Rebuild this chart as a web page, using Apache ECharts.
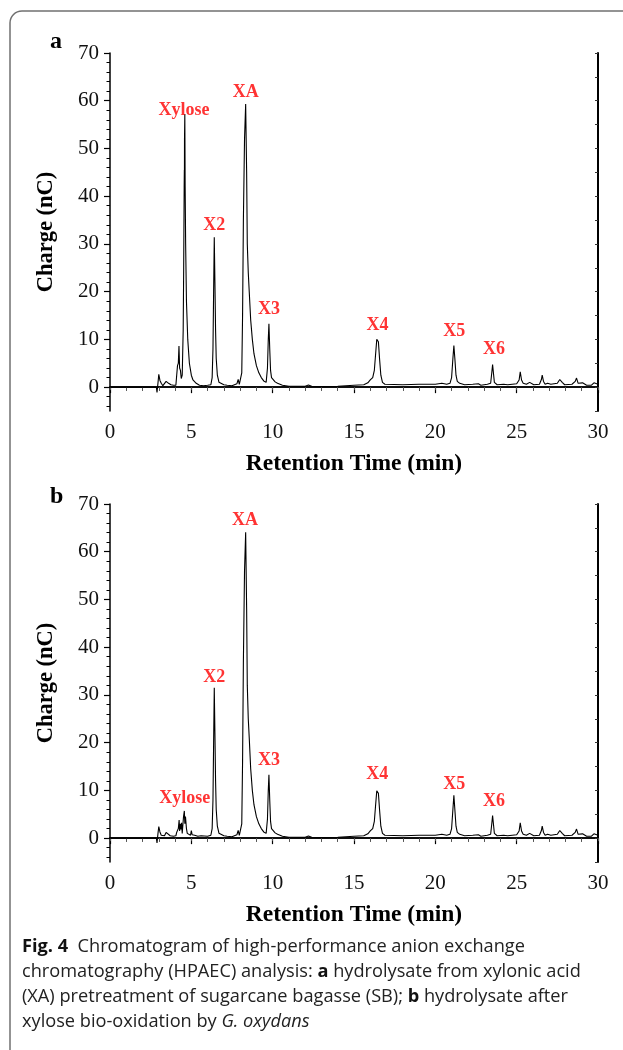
<!DOCTYPE html>
<html>
<head>
<meta charset="utf-8">
<script src="https://cdn.jsdelivr.net/npm/echarts@6/dist/echarts.min.js"></script>
<style>
html,body{margin:0;padding:0;background:#fff;}
#chart{width:623px;height:1050px;}
</style>
</head>
<body>
<div id="chart"></div>
<script>
// ---- data ----
var xTicks = [0, 5, 10, 15, 20, 25, 30];
var yMajorTicks = [0, 10, 20, 30, 40, 50, 60, 70];
var yMinorTicks = [-4, -2, 2, 4, 6, 8, 12, 14, 16, 18, 22, 24, 26, 28, 32, 34, 36, 38, 42, 44, 46, 48, 52, 54, 56, 58, 62, 64, 66, 68];

// panel a: [retention time (min), charge (nC)]
var traceA = [
[0,0],[2.85,0],[2.89,-1.1],[2.95,0.9],[3.0,2.7],[3.07,1.4],[3.15,0.8],[3.25,0.3],[3.35,0.5],[3.45,1.2],[3.5,1.1],[3.6,0.8],[3.75,0.5],[3.9,0.4],[4.05,0.4],
[4.1,2.5],[4.15,4.5],[4.2,5],[4.24,8.6],[4.28,4],[4.33,3.5],[4.38,1.8],[4.44,2.5],[4.5,12],[4.53,25],[4.56,42],[4.57,45.5],[4.575,42],[4.58,52],[4.6,57.2],
[4.62,42],[4.65,30],[4.7,18],[4.78,10],[4.88,5],[5.0,2.5],[5.1,1.5],[5.3,0.8],[5.5,0.4],[5.6,0.5],[5.75,0.3],[6.0,0.4],
[6.2,0.5],[6.28,2],[6.33,8],[6.37,20],[6.41,31.4],[6.45,22],[6.49,12],[6.53,6],[6.6,2.5],[6.7,1],[6.8,0.6],[7.0,0.5],[7.1,0.9],[7.2,0.4],[7.5,0.3],
[7.8,0.7],[7.88,1.6],[7.95,0.6],[8.02,0.3],[8.1,3],[8.15,15],[8.2,35],[8.27,52],[8.34,59.3],[8.4,45],[8.44,30],[8.5,24],[8.56,20],[8.65,14],[8.75,10],
[8.85,7],[9.0,4.5],[9.15,3],[9.3,2],[9.45,1.3],[9.6,1.0],[9.68,4],[9.73,10],[9.77,13.3],[9.82,8],[9.87,3.5],[9.93,2],[10.0,1.6],[10.05,1.8],[10.15,1.1],
[10.3,0.8],[10.6,0.4],[11.0,0.2],[12.0,0.2],[12.2,0.45],[12.4,0.2],[13.0,0.1],[14.0,0.2],[15.0,0.4],[15.6,0.5],[15.85,0.9],[16.0,1.5],[16.15,2.0],
[16.25,3.5],[16.33,7],[16.4,10],[16.45,10.4],[16.5,9.5],[16.57,6],[16.65,2.5],[16.75,1.0],[16.9,0.6],[17.0,0.5],[18.0,0.5],[19.0,0.6],[20.0,0.6],[20.4,0.8],[20.5,1.1],[20.7,0.6],
[20.9,0.8],[21.0,2],[21.08,6],[21.14,8.7],[21.2,6],[21.27,2.5],[21.35,1.2],[21.5,0.8],[21.6,1.0],[21.8,0.5],[22.3,0.6],[22.65,0.7],[22.7,1.0],[22.8,0.4],
[23.2,0.6],[23.4,0.8],[23.47,3],[23.52,4.75],[23.57,3],[23.63,1.0],[23.8,0.5],[24.2,0.6],[24.3,0.9],[24.45,0.5],[25.0,0.7],[25.15,1.5],[25.22,3.2],
[25.3,1.5],[25.4,0.8],[25.6,0.6],[25.8,1.0],[25.9,1.2],[26.05,0.5],[26.4,0.6],[26.52,1.6],[26.57,2.5],[26.65,1.2],[26.75,0.6],[26.9,0.8],[27.0,1.1],
[27.1,0.6],[27.3,0.7],[27.5,0.8],[27.65,1.6],[27.7,2.0],[27.8,1.0],[27.95,0.5],[28.4,0.6],[28.6,1.2],[28.68,1.9],[28.78,0.8],[28.9,0.5],[29.05,0.9],
[29.15,1.0],[29.3,0.4],[29.6,0.4],[29.75,0.9],[29.85,1.0],[30.0,0.6]
];

// panel b
var traceB = [
[0,0],[2.85,0],[2.89,-1.0],[2.95,1.0],[3.0,2.4],[3.07,1.3],[3.15,0.6],[3.25,0.3],[3.35,0.5],[3.45,1.2],[3.55,0.8],[3.7,0.5],[3.9,0.4],[4.05,0.5],
[4.1,1.2],[4.15,1.3],[4.2,2],[4.25,3.8],[4.28,1.5],[4.32,3.0],[4.36,1.8],[4.4,3.2],[4.44,1.0],[4.48,1.2],[4.52,4.5],[4.57,5.7],[4.6,3],[4.64,4.5],
[4.7,2],[4.75,1],[4.85,0.8],[4.95,0.6],[5.0,1.6],[5.05,0.7],[5.2,0.6],[5.4,0.4],[5.6,0.5],[6.0,0.4],
[6.2,0.6],[6.28,2],[6.33,8],[6.37,20],[6.41,31.5],[6.45,22],[6.49,12],[6.53,6],[6.6,2.5],[6.7,1],[6.8,0.6],[7.0,0.5],[7.1,0.9],[7.2,0.4],[7.5,0.3],
[7.8,0.7],[7.88,1.6],[7.95,0.6],[8.02,0.3],[8.1,3],[8.15,16],[8.2,37],[8.27,56],[8.34,64.1],[8.4,48],[8.44,32],[8.5,25],[8.56,21],[8.65,14.5],[8.75,10],
[8.85,7],[9.0,4.5],[9.15,3],[9.3,2],[9.45,1.3],[9.6,1.0],[9.68,4],[9.73,10],[9.77,13.3],[9.82,8],[9.87,3.5],[9.93,2],[10.0,1.6],[10.05,1.8],[10.15,1.1],
[10.3,0.8],[10.6,0.4],[11.0,0.2],[12.0,0.2],[12.2,0.45],[12.4,0.2],[13.0,0.1],[14.0,0.2],[15.0,0.4],[15.6,0.5],[15.85,0.9],[16.0,1.5],[16.15,2.0],
[16.25,3.5],[16.33,7],[16.4,9.9],[16.45,10.3],[16.5,9.4],[16.57,6],[16.65,2.5],[16.75,1.0],[16.9,0.6],[17.0,0.5],[18.0,0.5],[19.0,0.6],[20.0,0.6],[20.4,0.8],[20.5,1.1],[20.7,0.6],
[20.9,0.8],[21.0,2],[21.08,6],[21.14,9.0],[21.2,6],[21.27,2.5],[21.35,1.2],[21.5,0.8],[21.6,1.0],[21.8,0.5],[22.3,0.6],[22.65,0.7],[22.7,1.0],[22.8,0.4],
[23.2,0.6],[23.4,0.8],[23.47,3],[23.52,4.75],[23.57,3],[23.63,1.0],[23.8,0.5],[24.2,0.6],[24.3,0.9],[24.45,0.5],[25.0,0.7],[25.15,1.5],[25.22,3.2],
[25.3,1.5],[25.4,0.8],[25.6,0.6],[25.8,1.0],[25.9,1.2],[26.05,0.5],[26.4,0.6],[26.52,1.6],[26.57,2.5],[26.65,1.2],[26.75,0.6],[26.9,0.8],[27.0,1.1],
[27.1,0.6],[27.3,0.7],[27.5,0.8],[27.65,1.6],[27.7,2.0],[27.8,1.0],[27.95,0.5],[28.4,0.6],[28.6,1.2],[28.68,1.9],[28.78,0.8],[28.9,0.5],[29.05,0.9],
[29.15,1.0],[29.3,0.4],[29.6,0.4],[29.75,0.9],[29.85,1.0],[30.0,0.6]
];

var peakNames = ['Xylose', 'XA', 'X2', 'X3', 'X4', 'X5', 'X6'];
var peakLabelPosA = [[4.55, 57.9], [8.34, 61.8], [6.41, 33.8], [9.77, 16.3], [16.45, 13.0], [21.16, 11.6], [23.6, 7.9]];
var peakLabelPosB = [[4.6, 8.3], [8.3, 66.5], [6.41, 33.6], [9.77, 16.35], [16.43, 13.35], [21.16, 11.3], [23.6, 7.8]];

var panelLetters = ['a', 'b'];
var xAxisName = 'Retention Time (min)';
var yAxisName = 'Charge (nC)';

// ---- chart ----
var SERIF = 'Liberation Serif';
var chart = echarts.init(document.getElementById('chart'), null, {renderer: 'canvas'});

var grids = [
  {left: 110, top: 53, width: 488, height: 358},
  {left: 110, top: 504, width: 488, height: 358}
];
var xAxes = [], yAxes = [], series = [];
var traces = [traceA, traceB];
var labelPos = [peakLabelPosA, peakLabelPosB];

for (var g = 0; g < 2; g++) {
  xAxes.push({
    gridIndex: g, type: 'value', position: 'bottom', min: 0, max: 30, interval: 5,
    axisLine: {lineStyle: {color: '#000', width: 1.5}},
    axisTick: {inside: false, length: 6, lineStyle: {color: '#000', width: 1.2}},
    minorTick: {show: true, splitNumber: 5, length: 3.5, lineStyle: {color: '#000', width: 1}},
    axisLabel: {fontFamily: SERIF, fontSize: 21, color: '#111', margin: 11},
    splitLine: {show: false}, minorSplitLine: {show: false},
    name: xAxisName, nameLocation: 'middle', nameGap: 41,
    nameTextStyle: {fontFamily: SERIF, fontSize: 23.5, fontWeight: 'bold', color: '#000'}
  });
  xAxes.push({
    gridIndex: g, type: 'value', position: 'top', min: 0, max: 30, interval: 1,
    axisLine: {lineStyle: {color: '#000', width: 1.5}},
    axisTick: {inside: true, length: 3, lineStyle: {color: '#555', width: 1}},
    axisLabel: {show: false}, splitLine: {show: false}
  });
  yAxes.push({
    gridIndex: g, type: 'value', position: 'left', min: -5, max: 70,
    axisLine: {show: true, lineStyle: {color: '#000', width: 1.5}},
    axisTick: {show: true, inside: false, length: 6, customValues: yMajorTicks, lineStyle: {color: '#000', width: 1.2}},
    axisLabel: {customValues: yMajorTicks, fontFamily: SERIF, fontSize: 21, color: '#111', margin: 11},
    splitLine: {show: false},
    name: yAxisName, nameLocation: 'middle', nameGap: 52, nameRotate: 90,
    nameTextStyle: {fontFamily: SERIF, fontSize: 22.5, fontWeight: 'bold', color: '#000'}
  });
  yAxes.push({
    gridIndex: g, type: 'value', position: 'left', min: -5, max: 70,
    axisLine: {show: false},
    axisTick: {show: true, inside: false, length: 3.5, customValues: yMinorTicks, lineStyle: {color: '#000', width: 1}},
    axisLabel: {show: false}, splitLine: {show: false}
  });
  yAxes.push({
    gridIndex: g, type: 'value', position: 'right', min: -5, max: 70, interval: 5,
    axisLine: {show: true, lineStyle: {color: '#000', width: 2}},
    axisTick: {show: true, inside: true, length: 3, lineStyle: {color: '#333', width: 1}},
    axisLabel: {show: false}, splitLine: {show: false}
  });
  series.push({
    type: 'line', xAxisIndex: g * 2, yAxisIndex: g * 3,
    data: traces[g], showSymbol: false, symbol: 'none', smooth: false,
    lineStyle: {color: '#000', width: 1.1}, z: 3
  });
  series.push({
    type: 'scatter', xAxisIndex: g * 2, yAxisIndex: g * 3,
    symbolSize: 0, silent: true,
    data: labelPos[g].map(function (p, i) { return {name: peakNames[i], value: p}; }),
    label: {show: true, position: 'inside', formatter: '{b}',
      fontFamily: SERIF, fontSize: 18, fontWeight: 'bold', color: '#ff0000'},
    z: 4
  });
}

var caption = '{b|Fig. 4}  Chromatogram of high-performance anion exchange\n' +
  'chromatography (HPAEC) analysis: {b|a} hydrolysate from xylonic acid\n' +
  '(XA) pretreatment of sugarcane bagasse (SB); {b|b} hydrolysate after\n' +
  'xylose bio-oxidation by {i|G. oxydans}';

var capFont = 'Open Sans';
var capSize = 18.2;
var capLH = 25;

chart.setOption({
  animation: false,
  backgroundColor: '#fff',
  grid: grids,
  xAxis: xAxes,
  yAxis: yAxes,
  series: series,
  graphic: [
    {type: 'rect', shape: {x: 10, y: 11, width: 700, height: 1100, r: 12},
     style: {fill: 'none', stroke: '#707070', lineWidth: 1.5}, silent: true},
    {type: 'text', left: 50, top: 30,
     style: {text: panelLetters[0], fontFamily: SERIF, fontSize: 24, fontWeight: 'bold', fill: '#000'}},
    {type: 'text', left: 50, top: 485,
     style: {text: panelLetters[1], fontFamily: SERIF, fontSize: 24, fontWeight: 'bold', fill: '#000'}},
    {type: 'text', left: 22, top: 934.5,
     style: {text: caption, fontFamily: capFont, fontSize: capSize, lineHeight: capLH, fill: '#222',
       rich: {
         b: {fontFamily: capFont, fontSize: capSize, lineHeight: capLH, fontWeight: 'bold', fill: '#111'},
         i: {fontFamily: capFont, fontSize: capSize, lineHeight: capLH, fontStyle: 'italic', fill: '#222'}
       }}}
  ]
});
</script>
</body>
</html>
